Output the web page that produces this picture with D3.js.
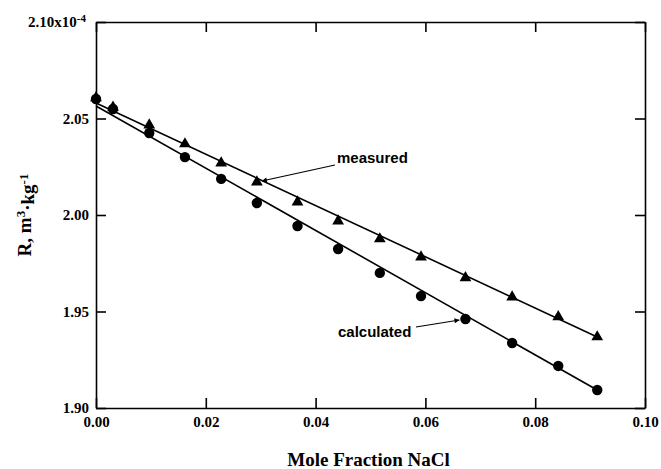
<!DOCTYPE html>
<html>
<head>
<meta charset="utf-8">
<script src="https://cdn.jsdelivr.net/npm/d3@7"></script>
<style>
  body { margin: 0; background: #fff; }
  .tick text { font-family: "Liberation Serif", serif; font-weight: bold; font-size: 15px; fill: #000; }
  .tick line, .domain { stroke: #000; stroke-width: 1.6px; }
  .title { font-family: "Liberation Serif", serif; font-weight: bold; font-size: 19px; fill: #000; }
  .note { font-family: "Liberation Sans", sans-serif; font-weight: bold; font-size: 15px; fill: #000; }
</style>
</head>
<body>
<svg width="661" height="469"></svg>
<script>
// values (R in units of 1e-4 m3/kg)
const moleFrac   = [0, 0.0031, 0.0097, 0.0162, 0.0228, 0.0293, 0.0367, 0.0441, 0.0517, 0.0592, 0.0673, 0.0758, 0.0842, 0.0913];
const measured   = [2.0607, 2.0558, 2.0466, 2.0368, 2.0269, 2.0171, 2.0067, 1.9969, 1.9876, 1.9782, 1.9674, 1.9575, 1.9472, 1.9368];
const calculated = [2.0601, 2.0549, 2.0425, 2.0300, 2.0187, 2.0062, 1.9943, 1.9824, 1.9700, 1.9580, 1.9461, 1.9337, 1.9218, 1.9093];
// straight fit lines, end values
const fitX        = [0, 0.0913];
const measuredFit = [2.0580, 1.9368];
const calcFit     = [2.0565, 1.9093];
const xTicks = [0, 0.02, 0.04, 0.06, 0.08, 0.10];
const yTicks = [1.90, 1.95, 2.00, 2.05, 2.10];

const svg = d3.select('svg');
const mLeft = 96, mRight = 645, mTop = 22, mBottom = 408;

const x = d3.scaleLinear().domain([0, 0.10]).range([mLeft, mRight]);
const y = d3.scaleLinear().domain([1.90, 2.10]).range([mBottom, mTop]);

// axes with inward ticks
svg.append('g').attr('transform', `translate(0,${mBottom})`)
  .call(d3.axisBottom(x).tickValues(xTicks).tickFormat(d3.format('.2f'))
    .tickSizeInner(-10).tickSizeOuter(0).tickPadding(8));
svg.append('g').attr('transform', `translate(0,${mTop})`)
  .call(d3.axisTop(x).tickValues(xTicks).tickFormat('')
    .tickSizeInner(-10).tickSizeOuter(0));
const yAxis = svg.append('g').attr('transform', `translate(${mLeft},0)`)
  .call(d3.axisLeft(y).tickValues(yTicks).tickFormat(d3.format('.2f'))
    .tickSizeInner(-10).tickSizeOuter(0).tickPadding(7));
svg.append('g').attr('transform', `translate(${mRight},0)`)
  .call(d3.axisRight(y).tickValues(yTicks).tickFormat('')
    .tickSizeInner(-10).tickSizeOuter(0));

// top label carries the exponent
yAxis.selectAll('.tick text').filter(d => d === 2.10)
  .text(null)
  .attr('dx', -3)
  .call(t => {
    t.append('tspan').text('2.10x10');
    t.append('tspan').attr('dy', '-0.5em').style('font-size', '11px').text('-4');
  });

// fit lines
const line = d3.line().x(d => x(d[0])).y(d => y(d[1]));
[measuredFit, calcFit].forEach(f => {
  svg.append('path')
    .attr('d', line(d3.zip(fitX, f)))
    .attr('fill', 'none').attr('stroke', '#000').attr('stroke-width', 1.6);
});

// markers
svg.selectAll('.tri').data(d3.zip(moleFrac, measured)).enter()
  .append('path').attr('class', 'tri')
  .attr('transform', d => `translate(${x(d[0])},${y(d[1])})`)
  .attr('d', d3.symbol(d3.symbolTriangle, 60))
  .attr('fill', '#000');
svg.selectAll('.dot').data(d3.zip(moleFrac, calculated)).enter()
  .append('circle').attr('class', 'dot')
  .attr('cx', d => x(d[0])).attr('cy', d => y(d[1]))
  .attr('r', 5.2).attr('fill', '#000');

// arrows
svg.append('defs').append('marker')
  .attr('id', 'head').attr('viewBox', '0 0 10 10')
  .attr('refX', 10).attr('refY', 5)
  .attr('markerWidth', 7).attr('markerHeight', 5)
  .attr('markerUnits', 'userSpaceOnUse')
  .attr('orient', 'auto')
  .append('path').attr('d', 'M0,0L10,5L0,10Z').attr('fill', '#000');

function note(label, tx, ty, px, py, qx, qy) {
  svg.append('text').attr('class', 'note').attr('x', tx).attr('y', ty).text(label);
  svg.append('line')
    .attr('x1', px).attr('y1', py).attr('x2', qx).attr('y2', qy)
    .attr('stroke', '#000').attr('stroke-width', 1.2)
    .attr('marker-end', 'url(#head)');
}
note('measured', 337, 163, 335, 165, x(moleFrac[5]) + 5, y(measured[5]) - 1);
note('calculated', 338, 337, 416, 327, x(moleFrac[10]) - 6, y(calculated[10]) + 1);

// axis titles
svg.append('text').attr('class', 'title')
  .attr('x', (mLeft + mRight) / 2 - 2).attr('y', 466)
  .attr('text-anchor', 'middle').text('Mole Fraction NaCl');

const yt = svg.append('text').attr('class', 'title')
  .attr('transform', `translate(31,${(mTop + mBottom) / 2}) rotate(-90)`)
  .attr('text-anchor', 'middle');
yt.append('tspan').text('R, m');
yt.append('tspan').attr('dy', '-0.45em').style('font-size', '13px').text('3');
yt.append('tspan').attr('dy', '0.45em').text('\u00b7kg');
yt.append('tspan').attr('dy', '-0.45em').style('font-size', '13px').text('-1');
</script>
</body>
</html>
